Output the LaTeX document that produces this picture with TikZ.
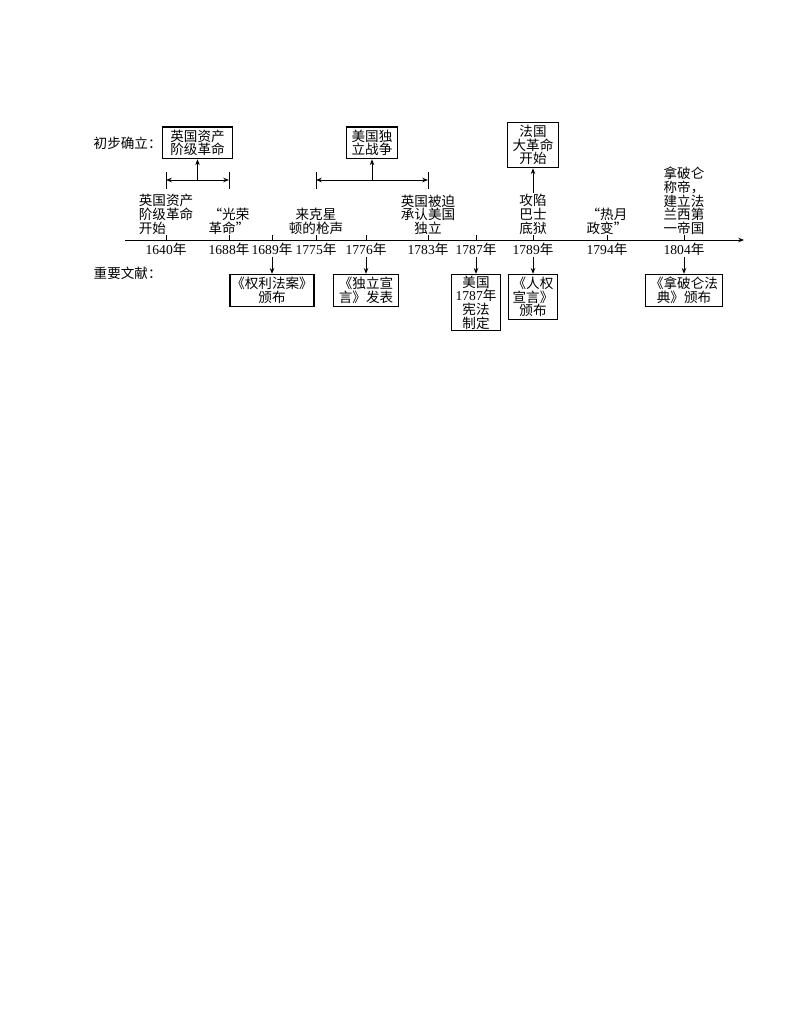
\documentclass[tikz,border=0pt]{standalone}
\usepackage{fontspec}
\setmainfont{Liberation Serif}
\newfontfamily\cjk{Noto Sans CJK SC}
\usetikzlibrary{positioning,calc,arrows.meta}

\begin{document}
\begin{tikzpicture}[x=0.027191cm,y=-0.027191cm,line width=0.7pt,>={Stealth[length=4.5pt,width=3.5pt]}]
\tikzset{txt/.style={font=\cjk\fontsize{10.5pt}{10.5pt}\selectfont,align=center,inner sep=1pt},
  box/.style={txt,draw,line width=0.8pt,inner ysep=2.2pt},
  yr/.style={font=\fontsize{10.5pt}{10.5pt}\selectfont,inner sep=1pt,anchor=north}};
   \useasboundingbox (0,0) rectangle (794,1028);

   % time axis
   \coordinate (axL) at (125,240);
   \coordinate (axR) at (744,240);
   \draw[->] (axL) -- (axR);
   \foreach \yy/\x in {1640/166,1688/229,1689/272,1775/316,1776/366,1783/428,1787/476,1789/533,1794/607,1804/684}{
      \coordinate (t\yy) at (\x,240);
      \draw (t\yy) -- ++(0,-5);
      \node[yr] (y\yy) at (\x,241) {\yy{\cjk 年}};
   }

   \node[txt,anchor=west] (chubu) at (92,143) {初步确立：};
   \node[txt,anchor=west] (wenxian) at (92,273) {重要文献：};

   % events above the axis
   \node[txt,anchor=south,align=left] (l1640) at (166,236) {英国资产\\阶级革命\\开始};
   \node[txt,anchor=south] (l1688) at (229,236) {“光荣\\革命”};
   \node[txt,anchor=south] (l1775) at (316,236) {来克星\\顿的枪声};
   \node[txt,anchor=south] (l1783) at (428,236) {英国被迫\\承认美国\\独立};
   \node[txt,anchor=south] (l1789) at (533,236) {攻陷\\巴士\\底狱};
   \node[txt,anchor=south] (l1794) at (607,236) {“热月\\政变”};
   \node[txt,anchor=south] (l1804) at (684,236) {拿破仑\\称帝，\\建立法\\兰西第\\一帝国};

   % spans
   \coordinate (s1) at (166,180);
   \coordinate (e1) at (229,180);
   \coordinate (s2) at (316,180);
   \coordinate (e2) at (428,180);
   \draw (s1) ++(0,-8) -- ++(0,17);
   \draw (e1) ++(0,-8) -- ++(0,17);
   \draw (s2) ++(0,-8) -- ++(0,17);
   \draw (e2) ++(0,-8) -- ++(0,17);
   \draw[<->] (s1) -- (e1);
   \draw[<->] (s2) -- (e2);
   \coordinate (m1) at ($(s1)!0.5!(e1)$);
   \coordinate (m2) at ($(s2)!0.5!(e2)$);

   \node[box,minimum width=54pt,above=16pt of m1] (ying) {英国资产\\阶级革命};
   \node[box,minimum width=39.5pt,above=16pt of m2] (mei) {美国独\\立战争};
   \node[box,minimum width=39.5pt,above=19pt of l1789] (fa) {法国\\大革命\\开始};
   \draw[->] (m1) -- (ying);
   \draw[->] (m2) -- (mei);
   \draw[->] (l1789) -- (fa);

   % documents below the axis
   \node[box,minimum width=65pt,below=13pt of y1689] (d1689) {《权利法案》\\颁布};
   \node[box,minimum width=51pt,below=13pt of y1776] (d1776) {《独立宣\\言》发表};
   \node[box,minimum width=38pt,below=13pt of y1787,inner ysep=1.2pt] (d1787) {美国\\{\rmfamily 1787}年\\宪法\\制定};
   \node[box,minimum width=38pt,below=13pt of y1789] (d1789) {《人权\\宣言》\\颁布};
   \node[box,minimum width=59.5pt,below=13pt of y1804] (d1804) {《拿破仑法\\典》颁布};
   \foreach \yy in {1689,1776,1787,1789,1804}
      \draw[->] (y\yy) -- (d\yy);
\end{tikzpicture}
\end{document}
